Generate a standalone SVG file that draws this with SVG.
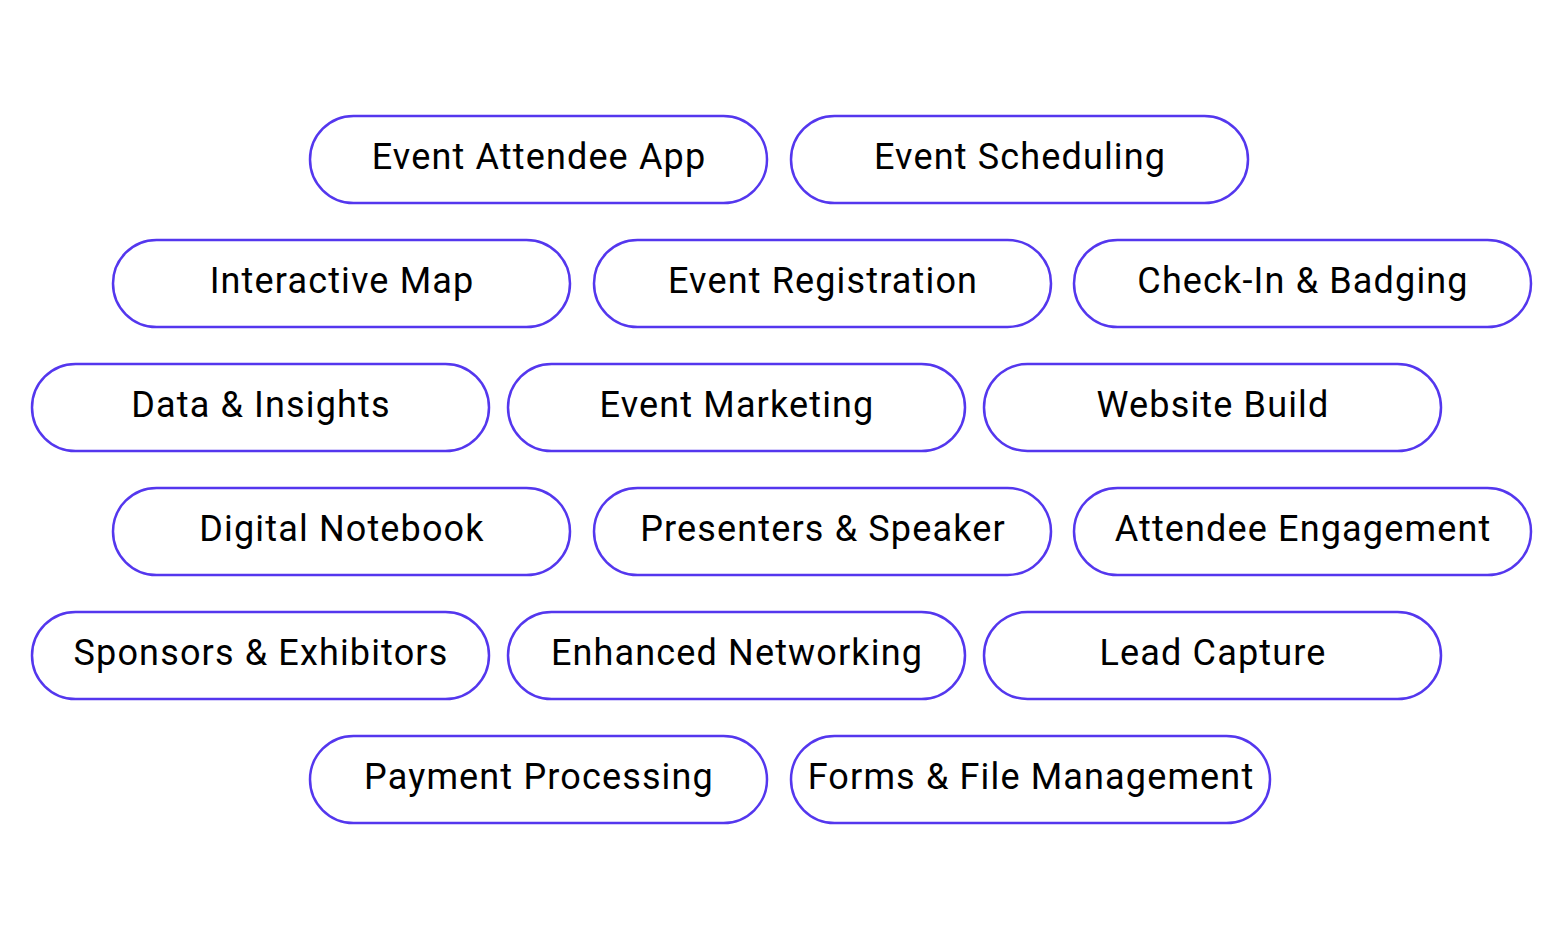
<svg xmlns="http://www.w3.org/2000/svg" width="1563" height="938" viewBox="0 0 1563 938">
<style>
.pill{fill:#ffffff;stroke:#5437EE;stroke-width:2.5}
.lbl{font-family:Roboto,"Liberation Sans",sans-serif;font-size:36px;letter-spacing:1.15px;fill:#000000;text-anchor:middle}
</style>
<rect width="1563" height="938" fill="#ffffff"/>
<g id="n1"><rect class="pill" x="310" y="116" width="457" height="87" rx="43.5"/><text class="lbl" x="539" y="169">Event Attendee App</text></g>
<g id="n2"><rect class="pill" x="791" y="116" width="457" height="87" rx="43.5"/><text class="lbl" x="1020" y="169">Event Scheduling</text></g>
<g id="n3"><rect class="pill" x="113" y="240" width="457" height="87" rx="43.5"/><text class="lbl" x="342" y="293">Interactive Map</text></g>
<g id="n4"><rect class="pill" x="594" y="240" width="457" height="87" rx="43.5"/><text class="lbl" x="823" y="293">Event Registration</text></g>
<g id="n5"><rect class="pill" x="1074" y="240" width="457" height="87" rx="43.5"/><text class="lbl" x="1303" y="293">Check-In &amp; Badging</text></g>
<g id="n6"><rect class="pill" x="32" y="364" width="457" height="87" rx="43.5"/><text class="lbl" x="261" y="417">Data &amp; Insights</text></g>
<g id="n7"><rect class="pill" x="508" y="364" width="457" height="87" rx="43.5"/><text class="lbl" x="737" y="417">Event Marketing</text></g>
<g id="n8"><rect class="pill" x="984" y="364" width="457" height="87" rx="43.5"/><text class="lbl" x="1213" y="417">Website Build</text></g>
<g id="n9"><rect class="pill" x="113" y="488" width="457" height="87" rx="43.5"/><text class="lbl" x="342" y="541">Digital Notebook</text></g>
<g id="n10"><rect class="pill" x="594" y="488" width="457" height="87" rx="43.5"/><text class="lbl" x="823" y="541">Presenters &amp; Speaker</text></g>
<g id="n11"><rect class="pill" x="1074" y="488" width="457" height="87" rx="43.5"/><text class="lbl" x="1303" y="541">Attendee Engagement</text></g>
<g id="n12"><rect class="pill" x="32" y="612" width="457" height="87" rx="43.5"/><text class="lbl" x="261" y="665">Sponsors &amp; Exhibitors</text></g>
<g id="n13"><rect class="pill" x="508" y="612" width="457" height="87" rx="43.5"/><text class="lbl" x="737" y="665">Enhanced Networking</text></g>
<g id="n14"><rect class="pill" x="984" y="612" width="457" height="87" rx="43.5"/><text class="lbl" x="1213" y="665">Lead Capture</text></g>
<g id="n15"><rect class="pill" x="310" y="736" width="457" height="87" rx="43.5"/><text class="lbl" x="539" y="789">Payment Processing</text></g>
<g id="n16"><rect class="pill" x="791" y="736" width="479" height="87" rx="43.5"/><text class="lbl" x="1031" y="789">Forms &amp; File Management</text></g>
<g id="connectors"></g>
</svg>
